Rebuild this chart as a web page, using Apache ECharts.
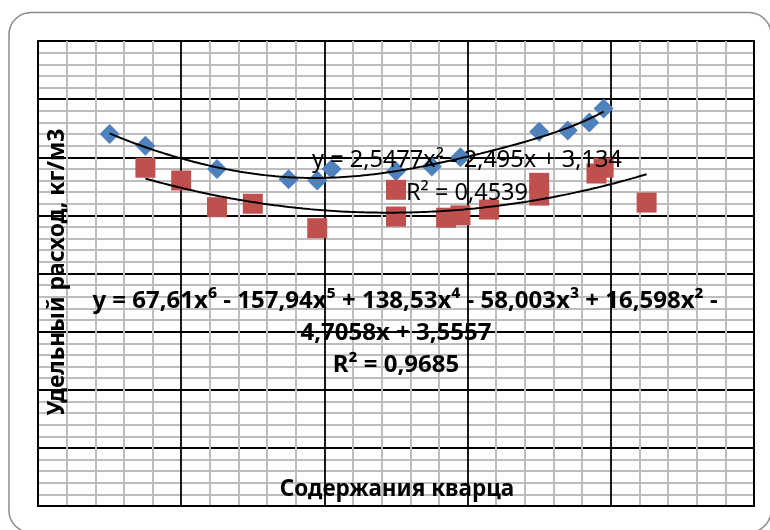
<!DOCTYPE html>
<html>
<head>
<meta charset="utf-8">
<script src="https://cdn.jsdelivr.net/npm/echarts@6/dist/echarts.min.js"></script>
<style>
  html, body { margin: 0; padding: 0; background: #ffffff; }
  #chart { width: 770px; height: 530px; }
</style>
</head>
<body>
<div id="chart"></div>
<script>
// Quartz content (fraction) and specific consumption, kg/m3
const blueX = [0.10, 0.15, 0.25, 0.35, 0.39, 0.41, 0.50, 0.55, 0.59, 0.70, 0.74, 0.77, 0.79];
const blueY = [3.20, 3.10, 2.90, 2.81, 2.80, 2.90, 2.88, 2.92, 3.00, 3.22, 3.23, 3.30, 3.42];

const redX = [0.15, 0.20, 0.25, 0.30, 0.39, 0.50, 0.50, 0.57, 0.59, 0.63, 0.70, 0.70, 0.78, 0.79, 0.85];
const redY = [2.91, 2.80, 2.57, 2.60, 2.39, 2.72, 2.49, 2.48, 2.50, 2.55, 2.78, 2.67, 2.86, 2.91, 2.61];

// Trendline coefficients, lowest power first
const blueTrendCoef = [3.5557, -4.7058, 16.598, -58.003, 138.53, -157.94, 67.61];
const redTrendCoef = [3.134, -2.495, 2.5477];

// Trendline equation labels
const blueEqLines = [
  'y = 67,61x\u2076 - 157,94x\u2075 + 138,53x\u2074 - 58,003x\u00b3 + 16,598x\u00b2 -',
  '4,7058x + 3,5557',
  'R\u00b2 = 0,9685'
];
const redEqLines = [
  'y = 2,5477x\u00b2 - 2,495x + 3,134',
  'R\u00b2 = 0,4539'
];

const xTitle = 'Содержания кварца';
const yTitle = 'Удельный расход, кг/м3';

function poly(coef, x) {
  let s = 0, p = 1;
  for (let i = 0; i < coef.length; i++) { s += coef[i] * p; p *= x; }
  return s;
}
function trend(coef, xs) {
  const lo = Math.min(...xs), hi = Math.max(...xs);
  const pts = [];
  const n = 140;
  for (let i = 0; i <= n; i++) {
    const x = lo + (hi - lo) * i / n;
    pts.push([x, poly(coef, x)]);
  }
  return pts;
}
const zip = (a, b) => a.map((v, i) => [v, b[i]]);

const chart = echarts.init(document.getElementById('chart'), null, { renderer: 'canvas' });

const majorLine = { show: true, lineStyle: { color: '#000000', width: 1.8 } };
const minorLine = { show: true, lineStyle: { color: '#bdbdbd', width: 2 } };

chart.setOption({
  backgroundColor: '#ffffff',
  animation: false,
  grid: { left: 38, right: 16, top: 41, bottom: 24, show: true, borderColor: '#000000', borderWidth: 2, backgroundColor: 'transparent' },
  xAxis: {
    type: 'value', min: 0, max: 1, interval: 0.2,
    axisLabel: { show: false }, axisTick: { show: false },
    axisLine: { show: true, lineStyle: { color: '#000', width: 2 } },
    splitLine: majorLine,
    minorTick: { show: false, splitNumber: 5 },
    minorSplitLine: minorLine
  },
  yAxis: {
    type: 'value', min: 0, max: 4, interval: 0.5,
    axisLabel: { show: false }, axisTick: { show: false },
    axisLine: { show: true, lineStyle: { color: '#000', width: 2 } },
    splitLine: majorLine,
    minorTick: { show: false, splitNumber: 5 },
    minorSplitLine: minorLine
  },
  series: [
    {
      type: 'scatter', name: 'blue', data: zip(blueX, blueY),
      symbol: 'diamond', symbolSize: 20,
      itemStyle: { color: '#4f81bd', opacity: 1 }, z: 3
    },
    {
      type: 'scatter', name: 'red', data: zip(redX, redY),
      symbol: 'rect', symbolSize: 20,
      itemStyle: { color: '#c0504d', opacity: 1 }, z: 4
    },
    {
      type: 'line', name: 'blueTrend', data: trend(blueTrendCoef, blueX),
      showSymbol: false, symbol: 'none', smooth: false,
      lineStyle: { color: '#000000', width: 2 }, z: 5
    },
    {
      type: 'line', name: 'redTrend', data: trend(redTrendCoef, redX),
      showSymbol: false, symbol: 'none', smooth: false,
      lineStyle: { color: '#000000', width: 2 }, z: 5
    }
  ],
  graphic: [
    {
      type: 'rect', silent: true, z: 100,
      shape: { x: 9, y: 12.5, width: 762, height: 520, r: 22 },
      style: { fill: null, stroke: '#8a8a8a', lineWidth: 1.5 }
    },
    {
      type: 'text', x: 467, y: 160, z: 100,
      style: { text: redEqLines[0], font: '23.5px "Noto Sans"', fill: '#000', textAlign: 'center', textVerticalAlign: 'middle' }
    },
    {
      type: 'text', x: 467, y: 193, z: 100,
      style: { text: redEqLines[1], font: '23.5px "Noto Sans"', fill: '#000', textAlign: 'center', textVerticalAlign: 'middle' }
    },
    {
      type: 'text', x: 405, y: 301, z: 100,
      style: { text: blueEqLines[0], font: 'bold 24px "Noto Sans"', fill: '#000', textAlign: 'center', textVerticalAlign: 'middle' }
    },
    {
      type: 'text', x: 396, y: 333, z: 100,
      style: { text: blueEqLines[1], font: 'bold 24px "Noto Sans"', fill: '#000', textAlign: 'center', textVerticalAlign: 'middle' }
    },
    {
      type: 'text', x: 396, y: 365, z: 100,
      style: { text: blueEqLines[2], font: 'bold 24px "Noto Sans"', fill: '#000', textAlign: 'center', textVerticalAlign: 'middle' }
    },
    {
      type: 'text', x: 397, y: 490, z: 100,
      style: { text: xTitle, font: 'bold 22.5px "Noto Sans"', fill: '#000', textAlign: 'center', textVerticalAlign: 'middle' }
    },
    {
      type: 'text', x: 57, y: 272, rotation: Math.PI / 2, z: 100,
      style: { text: yTitle, font: 'bold 23px "Noto Sans"', fill: '#000', textAlign: 'center', textVerticalAlign: 'middle' }
    }
  ]
});
</script>
</body>
</html>
